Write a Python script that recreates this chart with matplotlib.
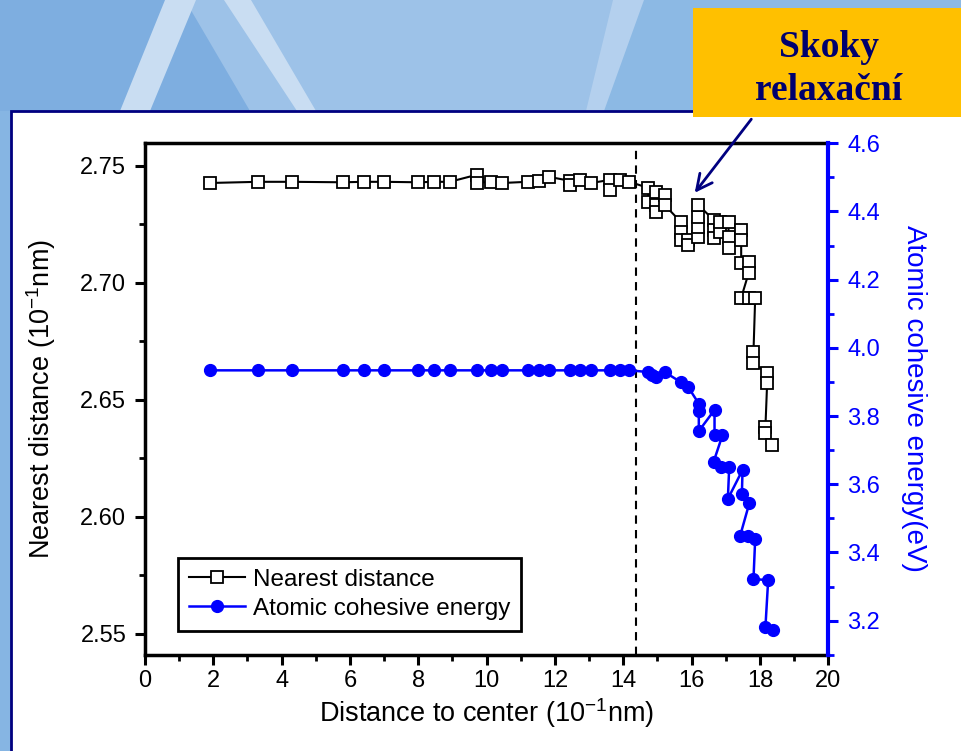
import matplotlib
matplotlib.use('Agg')
import matplotlib.pyplot as plt
from matplotlib.patches import Rectangle, Polygon, FancyArrowPatch

plt.rcParams['font.family'] = ['Liberation Sans', 'DejaVu Sans']
plt.rcParams['mathtext.fontset'] = 'custom'
plt.rcParams['mathtext.rm'] = 'Liberation Sans'

# nearest distance (10^-1 nm) vs distance to center (10^-1 nm)
dist_x = [1.90, 3.32, 4.31, 5.80, 6.41, 7.00, 7.99, 8.47, 8.92, 9.71, 9.71, 10.12,
          10.46, 11.20, 11.54, 11.83, 12.45, 12.45, 12.74, 13.06, 13.60, 13.60, 13.89,
          14.18, 14.73, 14.73, 14.97, 14.97, 14.97, 15.21, 15.21, 15.68, 15.68, 15.68,
          15.90, 15.90, 16.20, 16.20, 16.20, 16.20, 16.64, 16.64, 16.64, 16.83, 16.83,
          17.08, 17.08, 17.08, 17.45, 17.45, 17.45, 17.67, 17.67, 17.45, 17.67, 17.86,
          17.81, 17.81, 18.21, 18.21, 18.16, 18.16, 18.35]
nearest = [2.7427, 2.7432, 2.7432, 2.7430, 2.7432, 2.7432, 2.7430, 2.7432, 2.7432, 2.7462,
           2.7427, 2.7432, 2.7427, 2.7432, 2.7434, 2.7453, 2.7436, 2.7419, 2.7440, 2.7427,
           2.7440, 2.7397, 2.7440, 2.7432, 2.7406, 2.7346, 2.7389, 2.7333, 2.7303, 2.7376,
           2.7333, 2.7261, 2.7218, 2.7184, 2.7184, 2.7162, 2.7197, 2.7239, 2.7282, 2.7333,
           2.7269, 2.7226, 2.7192, 2.7218, 2.7261, 2.7261, 2.7197, 2.7150, 2.7226, 2.7184,
           2.7085, 2.7090, 2.7043, 2.6936, 2.6936, 2.6936, 2.6705, 2.6658, 2.6615, 2.6573,
           2.6385, 2.6359, 2.6308]

# atomic cohesive energy (eV)
energy_x = [1.90, 3.32, 4.31, 5.80, 6.41, 7.00, 7.99, 8.47, 8.92, 9.71, 10.12, 10.46,
            11.20, 11.54, 11.83, 12.45, 12.74, 13.06, 13.60, 13.89, 14.18, 14.73, 14.85,
            14.97, 15.21, 15.69, 15.90, 16.21, 16.21, 16.21, 16.67, 16.67, 16.90, 16.64,
            16.86, 17.10, 17.06, 17.49, 17.47, 17.69, 17.42, 17.65, 17.86, 17.81, 18.24,
            18.16, 18.37]
energy = [3.934] * 21 + [3.929, 3.920, 3.914, 3.929, 3.899, 3.885, 3.836, 3.816, 3.756,
                         3.818, 3.743, 3.743, 3.665, 3.650, 3.650, 3.557, 3.642, 3.570,
                         3.545, 3.449, 3.449, 3.440, 3.322, 3.319, 3.182, 3.173]

boundary_x = 14.37

W, H = 961, 751
fig = plt.figure(figsize=(W / 100, H / 100), dpi=100)
fig.patch.set_facecolor('#86b5e3')

def px(x, y):
    return (x / W, 1 - y / H)

# slide background shapes
bg = [
    ([(0, 0), (300, 0), (300, 111), (0, 111)], '#7eaee0'),
    ([(185, 0), (620, 0), (600, 111), (250, 111)], '#9dc2e8'),
    ([(620, 0), (961, 0), (961, 111), (600, 111)], '#8cb9e4'),
    ([(165, 0), (196, 0), (150, 111), (120, 111)], '#c9ddf2'),
    ([(224, 0), (251, 0), (316, 111), (297, 111)], '#c9ddf2'),
    ([(613, 0), (644, 0), (604, 111), (586, 111)], '#b4d0ee'),
]
for pts, c in bg:
    fig.patches.append(Polygon([px(*p) for p in pts], closed=True, transform=fig.transFigure,
                               facecolor=c, edgecolor='none', zorder=0))

# white panel
fig.patches.append(Rectangle(px(11, 760), 1.0, (760 - 111) / H, transform=fig.transFigure,
                             facecolor='white', edgecolor='#000080', lw=2, zorder=1))

ax = fig.add_axes([145 / W, 96 / H, 683.3 / W, 512.5 / H])
ax.set_zorder(2)
ax.plot(dist_x, nearest, '-', color='black', lw=1.5, marker='s', markersize=8,
        markerfacecolor='white', markeredgecolor='black', markeredgewidth=1.3,
        label='Nearest distance')
ax.axvline(boundary_x, color='black', ls=(0, (4, 3)), lw=1.5)
ax.set_xlim(0, 20)
ax.set_ylim(2.541, 2.760)
ax.set_xticks(range(0, 21, 2))
ax.set_xticks(range(1, 20, 2), minor=True)
ax.set_yticks([2.55, 2.60, 2.65, 2.70, 2.75])
ax.set_yticks([2.575, 2.625, 2.675, 2.725], minor=True)
ax.set_yticklabels(['2.55', '2.60', '2.65', '2.70', '2.75'])
ax.set_xlabel('Distance to center (10$^{-1}$nm)', fontsize=19.5, labelpad=3)
ax.set_ylabel('Nearest distance (10$^{-1}$nm)', fontsize=19.5, labelpad=16)
ax.tick_params(which='major', length=7.5, width=2.2, labelsize=17)
ax.tick_params(axis='y', which='major', pad=6)
ax.tick_params(which='minor', length=4, width=2)
for s in ['left', 'bottom', 'top']:
    ax.spines[s].set_linewidth(2.5)
ax.spines['right'].set_visible(False)

ax2 = ax.twinx()
ax2.plot(energy_x, energy, '-', color='#0000ff', lw=1.8, marker='o', markersize=8.5,
         markeredgecolor='#0000ff', label='Atomic cohesive energy')
ax2.set_ylim(3.0994, 4.602)
ax2.set_yticks([3.2, 3.4, 3.6, 3.8, 4.0, 4.2, 4.4, 4.6])
ax2.set_yticks([3.1, 3.3, 3.5, 3.7, 3.9, 4.1, 4.3, 4.5], minor=True)
ax2.set_ylabel('Atomic cohesive energy(eV)', fontsize=20, color='#0000ff', rotation=-90,
               labelpad=34)
ax2.tick_params(axis='y', which='major', length=7.5, width=2.2, labelsize=17,
                colors='#0000ff', pad=6)
ax2.tick_params(axis='y', which='minor', length=4, width=2, colors='#0000ff')
for s in ['left', 'bottom', 'top']:
    ax2.spines[s].set_visible(False)
ax2.spines['right'].set_color('#0000ff')
ax2.spines['right'].set_linewidth(3)

h1, l1 = ax.get_legend_handles_labels()
h2, l2 = ax2.get_legend_handles_labels()
leg = ax2.legend(h1 + h2, l1 + l2, loc='upper left', bbox_to_anchor=(0.048, 0.19),
                 borderaxespad=0, fontsize=17.5, fancybox=False, edgecolor='black',
                 framealpha=1, handlelength=2.3, handletextpad=0.35, labelspacing=0.3,
                 borderpad=0.45)
leg.get_frame().set_linewidth(2)

# callout box
fig.patches.append(Rectangle(px(693, 117), (961 - 693) / W, 109 / H, transform=fig.transFigure,
                             facecolor='#ffc000', edgecolor='none', zorder=5))
fig.text(829 / W, 1 - 69 / H, 'Skoky\nrelaxační', ha='center', va='center', fontsize=27,
         fontweight='bold', family='Liberation Serif', color='#00006e', linespacing=1.3,
         zorder=6)
fig.add_artist(FancyArrowPatch(
    px(753, 117), px(693, 195), transform=fig.transFigure, arrowstyle='->',
    mutation_scale=28, color='#000080', lw=2, zorder=6))

fig.savefig('out.png', dpi=100, facecolor=fig.get_facecolor())
